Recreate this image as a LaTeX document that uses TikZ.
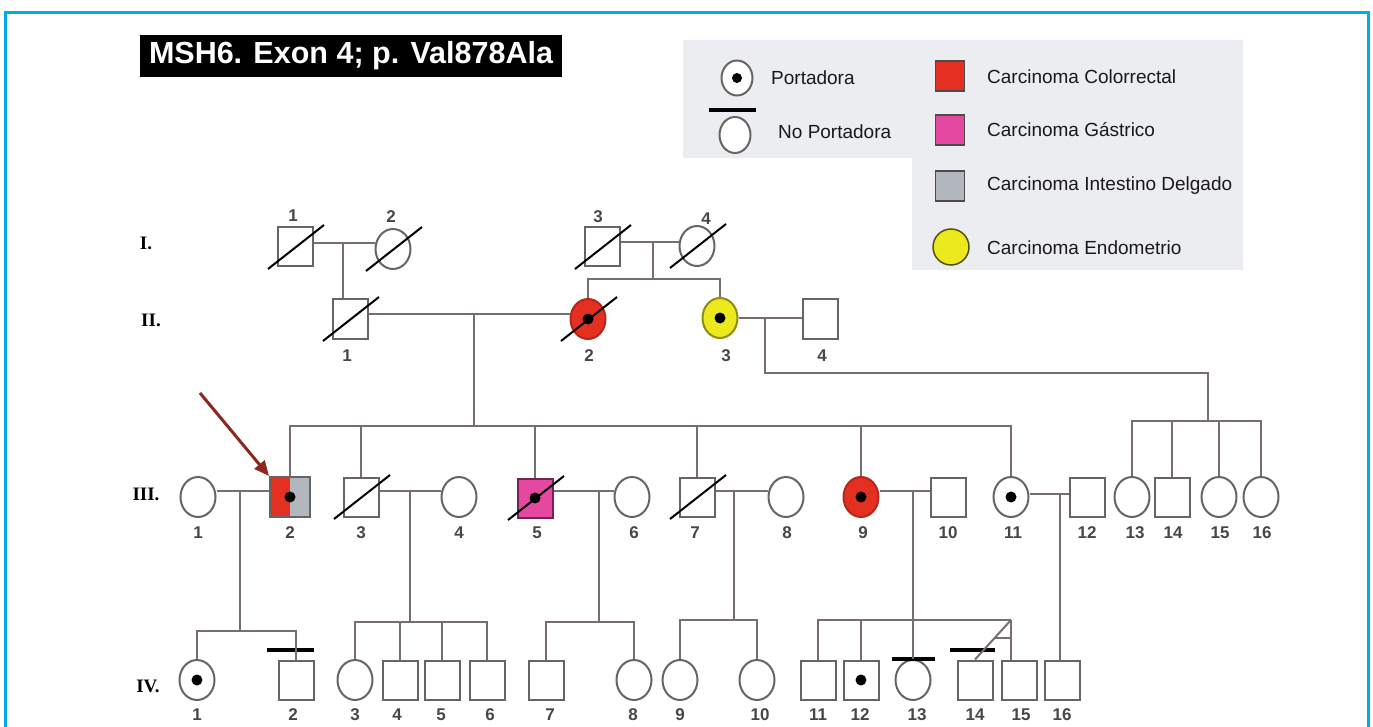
\documentclass[tikz,border=0pt]{standalone}
\usepackage{fontspec}
\setmainfont{Liberation Serif}
\newfontfamily\arialf{Liberation Sans}
\usetikzlibrary{shapes.geometric,arrows.meta}
\definecolor{frameblue}{RGB}{0,170,235}
\definecolor{symgray}{RGB}{105,100,100}
\definecolor{linegray}{RGB}{120,110,110}
\definecolor{ccred}{RGB}{228,48,32}
\definecolor{cgmag}{RGB}{228,72,160}
\definecolor{cigray}{RGB}{178,182,190}
\definecolor{ceyel}{RGB}{236,234,30}
\definecolor{leggray}{RGB}{236,237,240}
\definecolor{arrowred}{RGB}{140,40,30}
\begin{document}
\begin{tikzpicture}[x=1pt,y=-1pt,
 sq/.style={draw=symgray,line width=2pt,rectangle,minimum width=35pt,minimum height=39pt,inner sep=0pt,fill=white},
 ci/.style={draw=symgray,line width=2pt,ellipse,minimum width=35pt,minimum height=40pt,inner sep=0pt,fill=white},
 conn/.style={draw=linegray,line width=2pt},
 num/.style={font=\arialf\bfseries\fontsize{17}{17}\selectfont,text=black!72,inner sep=0pt},
 gen/.style={font=\bfseries\fontsize{19}{19}\selectfont,inner sep=0pt},
 legtxt/.style={font=\arialf\fontsize{19}{19}\selectfont,anchor=west,inner sep=0pt,text=black!90},
 legsq/.style={draw=black!70,line width=1.5pt,rectangle,minimum width=29pt,minimum height=30pt,inner sep=0pt},
 slashline/.style={draw=black,line width=2pt},
 ncbar/.style={draw=black,line width=4pt},
 dotc/.style={fill=black},
]
\useasboundingbox (0,0) rectangle (1373,727);
\fill[white] (0,0) rectangle (1373,727);
\draw[frameblue,line width=3pt] (5,727) -- (5,13) -- (1368,13) -- (1368,727);

% title
\node[fill=black,text=white,font=\arialf\bfseries\fontsize{30.5}{30.5}\selectfont,minimum width=422pt,minimum height=42pt,inner sep=0pt] (title) at (351,56) {MSH6. Exon 4; p. Val878Ala};

% legend
\fill[leggray] (683,40) -- (1243,40) -- (1243,270) -- (912,270) -- (912,158) -- (683,158) -- cycle;
\node[ci,minimum width=31pt,minimum height=35pt] (legP) at (737,78) {};
\fill[dotc] (legP.center) circle[radius=5pt];
\node[legtxt] (legPt) at (771,78) {Portadora};
\node[ci,minimum width=31pt,minimum height=36pt] (legN) at (735,135) {};
\draw[ncbar] ([shift={(-26,-25)}]legN.center) -- ([shift={(21,-25)}]legN.center);
\node[legtxt] (legNt) at (778,132) {No Portadora};
\node[legsq,fill=ccred] (legR) at (950,76) {};
\node[legtxt] (legRt) at (987,77) {Carcinoma Colorrectal};
\node[legsq,fill=cgmag] (legM) at (950,130) {};
\node[legtxt] (legMt) at (987,130) {Carcinoma Gástrico};
\node[legsq,fill=cigray] (legG) at (950,186) {};
\node[legtxt] (legGt) at (987,186) {Carcinoma Intestino Delgado};
\node[circle,draw=black!65!ceyel,line width=1.5pt,fill=ceyel,minimum size=36pt,inner sep=0pt] (legY) at (951,247) {};
\node[legtxt] (legYt) at (987,248) {Carcinoma Endometrio};

% generation labels
\node[gen] (gI) at (146,243) {I.};
\node[gen] (gII) at (151,320) {II.};
\node[gen] (gIII) at (146,494) {III.};
\node[gen] (gIV) at (148,686) {IV.};

% generation I
\node[sq] (I1) at (295,247) {};
\node[ci] (I2) at (393,249) {};
\node[sq] (I3) at (602,247) {};
\node[ci] (I4) at (697,246) {};
% generation II
\node[sq] (II1) at (350,319) {};
\node[ci,fill=ccred,draw=ccred!80!black] (II2) at (588,319) {};
\node[ci,fill=ceyel,draw=ceyel!60!black] (II3) at (720,318) {};
\node[sq] (II4) at (820,319) {};
% generation III
\node[ci] (III1) at (198,497) {};
\node[sq,fill=none,minimum width=40pt,minimum height=40pt] (III2) at (290,497) {};
\node[sq] (III3) at (361,497) {};
\node[ci] (III4) at (459,497) {};
\node[sq,fill=cgmag,draw=cgmag!50!black] (III5) at (535,498) {};
\node[ci] (III6) at (632,497) {};
\node[sq] (III7) at (697,497) {};
\node[ci] (III8) at (786,497) {};
\node[ci,fill=ccred,draw=ccred!80!black] (III9) at (861,497) {};
\node[sq] (III10) at (948,497) {};
\node[ci] (III11) at (1011,497) {};
\node[sq] (III12) at (1087,497) {};
\node[ci] (III13) at (1132,497) {};
\node[sq] (III14) at (1172,497) {};
\node[ci] (III15) at (1219,497) {};
\node[ci] (III16) at (1261,497) {};
% generation IV
\node[ci] (IV1) at (197,680) {};
\node[sq] (IV2) at (296,680) {};
\node[ci] (IV3) at (355,680) {};
\node[sq] (IV4) at (400,680) {};
\node[sq] (IV5) at (442,680) {};
\node[sq] (IV6) at (487,680) {};
\node[sq] (IV7) at (546,680) {};
\node[ci] (IV8) at (634,680) {};
\node[ci] (IV9) at (680,680) {};
\node[ci] (IV10) at (757,680) {};
\node[sq] (IV11) at (818,680) {};
\node[sq] (IV12) at (861,680) {};
\node[ci] (IV13) at (913,680) {};
\node[sq] (IV14) at (975,680) {};
\node[sq] (IV15) at (1019,680) {};
\node[sq] (IV16) at (1062,680) {};

% III-2 split fill
\fill[ccred] (III2.south west) rectangle (III2.north);
\fill[cigray] (III2.north) rectangle (III2.south east);
\draw[symgray,line width=2pt] ([shift={(1,-1)}]III2.south west) rectangle ([shift={(-1,1)}]III2.north east);

% carrier dots
\foreach \n in {II2,II3,III2,III5,III9,III11,IV1,IV12}
  \fill[dotc] (\n.center) circle[radius=5.5pt];

% deceased slashes
\foreach \n in {I1,I2,I3,I4,II1,II2,III3,III5,III7}
  \draw[slashline] ([shift={(-27,22)}]\n.center) -- ([shift={(29,-22)}]\n.center);

% non-carrier bars
\draw[ncbar] ([shift={(-29,-30)}]IV2.center) -- ([shift={(18,-30)}]IV2.center);
\draw[ncbar] ([shift={(-21,-21)}]IV13.center) -- ([shift={(22,-21)}]IV13.center);
\draw[ncbar] ([shift={(-25,-30)}]IV14.center) -- ([shift={(20,-30)}]IV14.center);

% proband arrow
\coordinate (arA) at (200,393);
\draw[arrowred,line width=3pt,-{Triangle[length=15pt,width=13pt]}] (arA) -- (III2.north west);

% gen I connectors
\coordinate (mA) at (343,243);
\draw[conn] (I1.east |- mA) -- (I2.west |- mA);
\draw[conn] (mA) -- (mA |- II1.north);
\coordinate (mB) at (653,242);
\coordinate (sB) at (653,279);
\draw[conn] (I3.east |- mB) -- (I4.west |- mB);
\draw[conn] (mB) -- (sB);
\draw[conn] (II2.north) |- (sB) -| (II3.north);

% gen II connectors
\coordinate (mC) at (474,314);
\coordinate (sC) at (474,426);
\draw[conn] (II1.east |- mC) -- (II2.west |- mC);
\draw[conn] (mC) -- (sC);
\draw[conn] (III2.north) |- (sC) -| (III11.north);
\foreach \n in {III3,III5,III7,III9}
  \draw[conn] (\n.north) -- (\n.north |- sC);

\coordinate (mD) at (765,318);
\coordinate (kD) at (1208,373);
\coordinate (sD) at (1208,421);
\draw[conn] (II3.east |- mD) -- (II4.west |- mD);
\draw[conn] (mD) |- (kD) -- (sD);
\draw[conn] (III13.north) |- (sD) -| (III16.north);
\foreach \n in {III14,III15}
  \draw[conn] (\n.north) -- (\n.north |- sD);

% gen III connectors
\coordinate (mE) at (240,491);
\coordinate (sE) at (240,631);
\draw[conn] (III1.east |- mE) -- (III2.west |- mE);
\draw[conn] (mE) -- (sE);
\draw[conn] (IV1.north) |- (sE) -| (IV2.north);

\coordinate (mF) at (410,491);
\coordinate (sF) at (410,622);
\draw[conn] (III3.east |- mF) -- (III4.west |- mF);
\draw[conn] (mF) -- (sF);
\draw[conn] (IV3.north) |- (sF) -| (IV6.north);
\foreach \n in {IV4,IV5}
  \draw[conn] (\n.north) -- (\n.north |- sF);

\coordinate (mG) at (599,491);
\coordinate (sG) at (599,622);
\draw[conn] (III5.east |- mG) -- (III6.west |- mG);
\draw[conn] (mG) -- (sG);
\draw[conn] (IV7.north) |- (sG) -| (IV8.north);

\coordinate (mH) at (734,491);
\coordinate (sH) at (734,620);
\draw[conn] (III7.east |- mH) -- (III8.west |- mH);
\draw[conn] (mH) -- (sH);
\draw[conn] (IV9.north) |- (sH) -| (IV10.north);

\coordinate (mJ) at (913,491);
\coordinate (sJ) at (913,620);
\coordinate (tw) at (1011,620);
\coordinate (cb) at (995,638);
\draw[conn] (III9.east |- mJ) -- (III10.west |- mJ);
\draw[conn] (mJ) -- (IV13.north);
\draw[conn] (IV11.north) |- (sJ) -- (tw);
\draw[conn] (IV12.north) -- (IV12.north |- sJ);
\draw[conn] (tw) -- (tw |- IV15.north);
\draw[conn] (tw) -- (IV14.north);
\draw[conn] (cb) -- (cb -| tw);

\coordinate (mK) at (1060,494);
\draw[conn] (III11.east |- mK) -- (III12.west |- mK);
\draw[conn] (mK) -- (mK |- IV16.north);

% number labels
\node[num] (nI1) at (293,216) {1};
\node[num] (nI2) at (391,217) {2};
\node[num] (nI3) at (598,217) {3};
\node[num] (nI4) at (706,219) {4};
\node[num] (nII1) at (347,356) {1};
\node[num] (nII2) at (589,356) {2};
\node[num] (nII3) at (726,356) {3};
\node[num] (nII4) at (822,356) {4};
\foreach \x/\t in {198/1,290/2,361/3,459/4,537/5,634/6,695/7,787/8,863/9,948/10,1013/11,1087/12,1135/13,1173/14,1220/15,1262/16}
  \node[num] (nIII\t) at (\x,533) {\t};
\foreach \x/\t in {197/1,293/2,355/3,397/4,441/5,490/6,550/7,633/8,680/9,760/10,818/11,860/12,917/13,975/14,1021/15,1062/16}
  \node[num] (nIV\t) at (\x,715) {\t};
\end{tikzpicture}
\end{document}
